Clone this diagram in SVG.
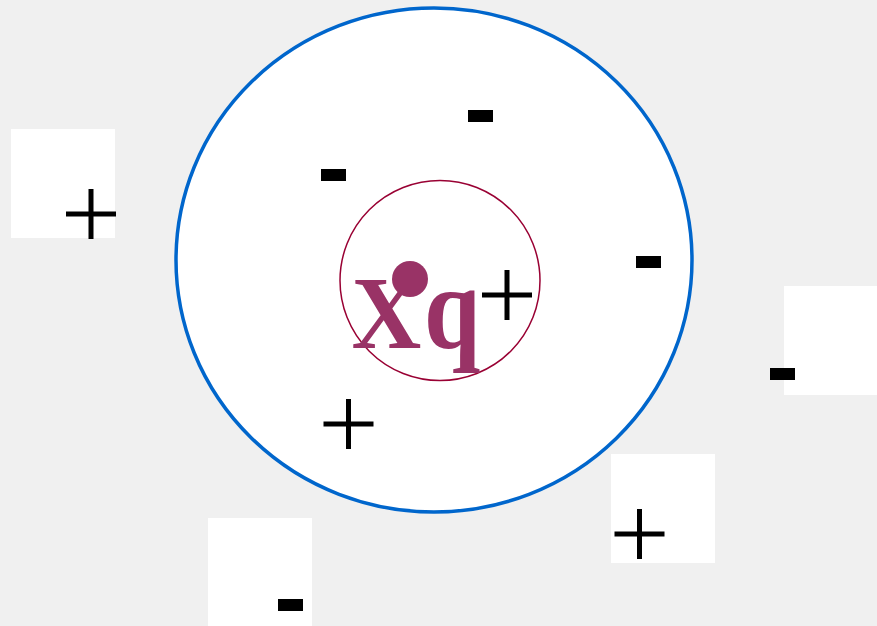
<svg xmlns="http://www.w3.org/2000/svg" width="877" height="626" viewBox="0 0 877 626">
<style>
.box{fill:#ffffff}
.minus{fill:#000000}
.plus{stroke:#000000;stroke-width:5;fill:none}
.xq{font-family:"Liberation Serif","Times New Roman",serif;font-weight:bold;fill:#993366}
</style>
<defs>
<path id="plus" class="plus" d="M-25,0H25M0,-25V25"/>
<rect id="minus" class="minus" x="-12.5" y="-6" width="25" height="12"/>
</defs>
<rect width="877" height="626" fill="#f0f0f0"/>
<g id="outer-circle"><ellipse cx="434" cy="260" rx="258" ry="252" fill="#ffffff" stroke="#0066cc" stroke-width="3.5"/></g>
<g id="inner-circle"><circle cx="440" cy="280.5" r="100" fill="none" stroke="#990033" stroke-width="1.5"/></g>
<g id="box-1"><rect class="box" x="11" y="129" width="104" height="109"/><use href="#plus" x="91" y="214"/></g>
<g id="box-2"><rect class="box" x="784" y="286" width="93" height="109"/><use href="#minus" x="782.5" y="374"/></g>
<g id="box-3"><rect class="box" x="611" y="454" width="104" height="109"/><use href="#plus" x="639.5" y="534"/></g>
<g id="box-4"><rect class="box" x="208" y="518" width="104" height="108"/><use href="#minus" x="290.5" y="605"/></g>
<g id="charges">
<use href="#minus" x="480.5" y="116"/>
<use href="#minus" x="333.5" y="175"/>
<use href="#minus" x="648.5" y="262"/>
<use href="#plus" x="348.5" y="424"/>
<use href="#plus" x="507" y="295"/>
</g>
<g id="xq-label">
<text class="xq" transform="scale(0.93,1)" x="378" y="348" font-size="104">X</text>
<text class="xq" transform="scale(0.86,1)" x="493" y="348" font-size="118">q</text>
<circle cx="410" cy="279" r="18" fill="#993366"/>
</g>
</svg>
